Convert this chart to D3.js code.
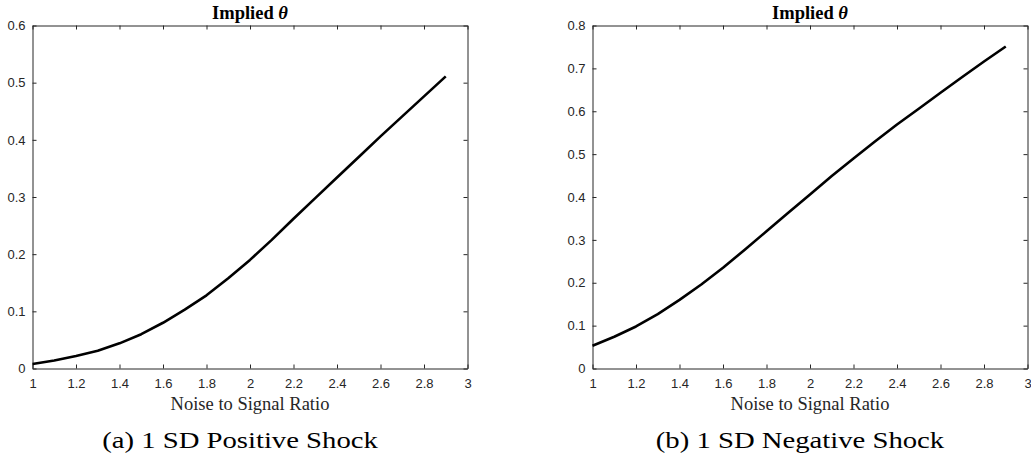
<!DOCTYPE html>
<html lang="en">
<head>
<meta charset="utf-8">
<title>Implied theta</title>
<style>
  body { margin: 0; background: #fff; }
  svg { display: block; }
  .tick line, .domain { stroke: #262626; stroke-width: 1; }
  .title { font: bold 18.5px "Liberation Serif", "Times New Roman", serif; }
  .xlabel { font: 18.5px "Liberation Serif", "Times New Roman", serif; fill: #262626; }
  .caption { font: 24px "Liberation Serif", "Times New Roman", serif; }
</style>
</head>
<body>
<svg width="1031" height="457"></svg>
<script src="https://d3js.org/d3.v7.min.js"></script>
<script>
  // noise to signal ratio
  const ratio = [1.0, 1.1, 1.2, 1.3, 1.4, 1.5, 1.6, 1.7, 1.8, 1.9,
                 2.0, 2.1, 2.2, 2.3, 2.4, 2.5, 2.6, 2.7, 2.8, 2.9];

  // implied theta, 1 SD positive shock
  const thetaPos = [0.008, 0.014, 0.022, 0.031, 0.044, 0.060, 0.080, 0.103, 0.128, 0.158,
                    0.190, 0.225, 0.262, 0.298, 0.334, 0.370, 0.406, 0.441, 0.476, 0.511];

  // implied theta, 1 SD negative shock
  const thetaNeg = [0.053, 0.074, 0.098, 0.127, 0.160, 0.196, 0.235, 0.277, 0.320, 0.363,
                    0.406, 0.449, 0.490, 0.530, 0.569, 0.606, 0.643, 0.680, 0.716, 0.751];

  const xTicks = [1, 1.2, 1.4, 1.6, 1.8, 2, 2.2, 2.4, 2.6, 2.8, 3];
  const yTicksPos = [0, 0.1, 0.2, 0.3, 0.4, 0.5, 0.6];
  const yTicksNeg = [0, 0.1, 0.2, 0.3, 0.4, 0.5, 0.6, 0.7, 0.8];

  const panels = [
    {left: 32.5, values: thetaPos, yMax: 0.6, yTicks: yTicksPos, caption: "(a) 1 SD Positive Shock", capX: 240},
    {left: 592.5, values: thetaNeg, yMax: 0.8, yTicks: yTicksNeg, caption: "(b) 1 SD Negative Shock", capX: 800}
  ];

  const svg = d3.select("svg");
  const plotW = 435, plotTop = 25.5, plotBottom = 368.5;
  const fmt = d => d3.format("")(+d.toFixed(1));

  // matlab-ish tick labels
  function styleAxis(sel) {
    sel.attr("font-size", 13)
      .attr("font-family", '"Liberation Sans", Arial, sans-serif');
    sel.selectAll("text").attr("fill", "#262626");
  }

  panels.forEach(p => {
    const x = d3.scaleLinear().domain([1, 3]).range([p.left, p.left + plotW]);
    const y = d3.scaleLinear().domain([0, p.yMax]).range([plotBottom, plotTop]);
    const g = svg.append("g");

    // box with inward ticks on all four sides
    g.append("g")
      .attr("transform", `translate(0,${plotBottom})`)
      .call(d3.axisBottom(x).tickValues(xTicks).tickFormat(fmt)
        .tickSizeInner(-4).tickSizeOuter(0).tickPadding(10.5))
      .call(styleAxis);
    g.append("g")
      .attr("transform", `translate(0,${plotTop})`)
      .call(d3.axisTop(x).tickValues(xTicks).tickFormat("")
        .tickSizeInner(-4).tickSizeOuter(0));
    g.append("g")
      .attr("transform", `translate(${p.left},0)`)
      .call(d3.axisLeft(y).tickValues(p.yTicks).tickFormat(fmt)
        .tickSizeInner(-4).tickSizeOuter(0).tickPadding(7))
      .call(styleAxis);
    g.append("g")
      .attr("transform", `translate(${p.left + plotW},0)`)
      .call(d3.axisRight(y).tickValues(p.yTicks).tickFormat("")
        .tickSizeInner(-4).tickSizeOuter(0));

    g.selectAll(".domain").attr("stroke", "#262626");

    const line = d3.line()
      .x((d, i) => x(ratio[i]))
      .y(d => y(d));

    g.append("path")
      .datum(p.values)
      .attr("fill", "none")
      .attr("stroke", "#000")
      .attr("stroke-width", 2.6)
      .attr("stroke-linejoin", "round")
      .attr("d", line);

    const mid = p.left + plotW / 2;

    const title = g.append("text")
      .attr("class", "title")
      .attr("x", mid)
      .attr("y", 18.5)
      .attr("text-anchor", "middle");
    title.append("tspan").text("Implied ");
    title.append("tspan").style("font-style", "italic").text("θ");

    g.append("text")
      .attr("class", "xlabel")
      .attr("x", mid)
      .attr("y", 410)
      .attr("text-anchor", "middle")
      .text("Noise to Signal Ratio");

    const cap = g.append("text")
      .attr("class", "caption")
      .attr("x", p.capX)
      .attr("y", 448)
      .attr("text-anchor", "middle")
      .text(p.caption);
    // computer modern is wider than times, stretch a bit
    const w = cap.node().getComputedTextLength();
    cap.attr("textLength", w * 1.195).attr("lengthAdjust", "spacingAndGlyphs");
  });
</script>
</body>
</html>
